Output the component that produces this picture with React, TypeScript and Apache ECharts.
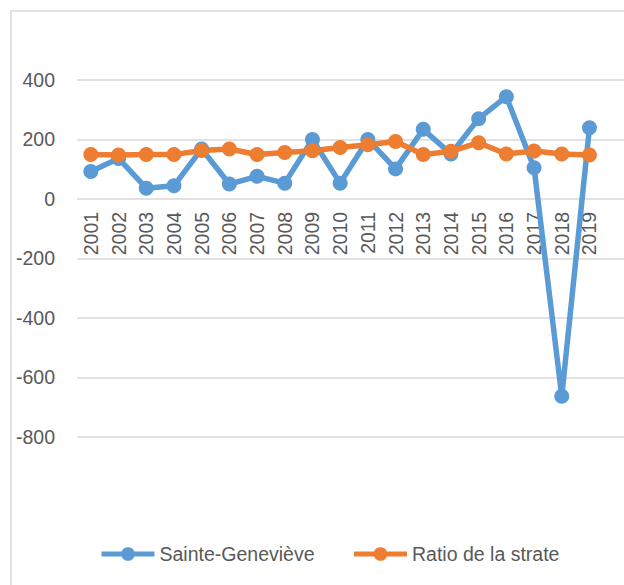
import React, { useEffect, useRef } from "react";
import * as echarts from "echarts";

const years = [
  "2001", "2002", "2003", "2004", "2005", "2006", "2007", "2008", "2009", "2010",
  "2011", "2012", "2013", "2014", "2015", "2016", "2017", "2018", "2019",
];
const sainteGenevieve = [92, 136, 36, 44, 168, 50, 76, 53, 200, 53, 200, 101, 234, 151, 270, 344, 105, -664, 239];
const ratioStrate = [149, 148, 149, 149, 163, 168, 149, 156, 162, 173, 182, 193, 149, 160, 189, 151, 161, 151, 148];
const yMin = -800;
const yMax = 400;
const yStep = 200;

const FONT = "'Liberation Sans', Arial, sans-serif";
const TEXT = "#595959";
const GRID = "#D9D9D9";
const BLUE = "#5B9BD5";
const ORANGE = "#ED7D31";

export default function App() {
  const ref = useRef<HTMLDivElement>(null);
  useEffect(() => {
    document.body.style.margin = "0";
    const chart = echarts.init(ref.current!, null, { renderer: "svg" });
    const gridLeft = 77;
    const gridTop = 80;
    const gridHeight = 356.7;
    const gridWidth = 526.3;
    // height of the part of the plot above the zero line (for the category labels)
    const aboveZero = (gridHeight * (yMax - 0)) / (yMax - yMin);
    chart.setOption({
      animation: false,
      backgroundColor: "#ffffff",
      textStyle: { fontFamily: FONT, color: TEXT },
      graphic: [
        {
          type: "rect",
          shape: { x: 11, y: 11, width: 700, height: 700 },
          style: { fill: "none", stroke: GRID, lineWidth: 1.5 },
          silent: true,
        },
      ],
      legend: {
        bottom: 21,
        left: 99,
        padding: 0,
        itemWidth: 53,
        itemHeight: 17,
        itemGap: 37,
        lineStyle: { width: 5 },
        textStyle: { fontFamily: FONT, fontSize: 19.5, color: TEXT },
        data: ["Sainte-Geneviève", "Ratio de la strate"],
      },
      grid: [
        { left: gridLeft, top: gridTop, width: gridWidth, height: gridHeight },
        { left: gridLeft, top: gridTop, right: 0, height: gridHeight },
        { left: gridLeft, top: gridTop, width: gridWidth, height: aboveZero },
      ],
      xAxis: [
        {
          type: "category",
          gridIndex: 0,
          data: years,
          boundaryGap: true,
          axisLine: { show: false },
          axisTick: { show: false },
          axisLabel: { show: false },
          splitLine: { show: false },
        },
        {
          type: "value",
          gridIndex: 1,
          min: 0,
          max: 1,
          show: false,
        },
        {
          type: "category",
          gridIndex: 2,
          position: "bottom",
          data: years,
          boundaryGap: true,
          axisLine: { show: false, onZero: false },
          axisTick: { show: false },
          axisLabel: {
            rotate: 90,
            interval: 0,
            margin: 13,
            color: TEXT,
            fontFamily: FONT,
            fontSize: 19.5,
          },
          splitLine: { show: false },
        },
      ],
      yAxis: [
        {
          type: "value",
          gridIndex: 0,
          min: yMin,
          max: yMax,
          interval: yStep,
          axisLine: { show: false },
          axisTick: { show: false },
          axisLabel: { margin: 22, color: TEXT, fontFamily: FONT, fontSize: 19.5 },
          splitLine: { show: false },
        },
        {
          type: "value",
          gridIndex: 1,
          min: yMin,
          max: yMax,
          interval: yStep,
          axisLine: { show: false },
          axisTick: { show: false },
          axisLabel: { show: false },
          splitLine: { show: true, lineStyle: { color: GRID, width: 1.5 } },
        },
        {
          type: "value",
          gridIndex: 2,
          min: 0,
          max: yMax,
          show: false,
        },
      ],
      series: [
        {
          name: "Sainte-Geneviève",
          type: "line",
          xAxisIndex: 0,
          yAxisIndex: 0,
          data: sainteGenevieve,
          symbol: "circle",
          symbolSize: 15,
          itemStyle: { color: BLUE },
          lineStyle: { color: BLUE, width: 5.5 },
        },
        {
          name: "Ratio de la strate",
          type: "line",
          xAxisIndex: 0,
          yAxisIndex: 0,
          data: ratioStrate,
          symbol: "circle",
          symbolSize: 15,
          itemStyle: { color: ORANGE },
          lineStyle: { color: ORANGE, width: 5.5 },
        },
      ],
    });
    return () => chart.dispose();
  }, []);
  return (
    <div
      ref={ref}
      style={{ position: "fixed", left: 0, top: 0, width: 624, height: 585 }}
    />
  );
}
